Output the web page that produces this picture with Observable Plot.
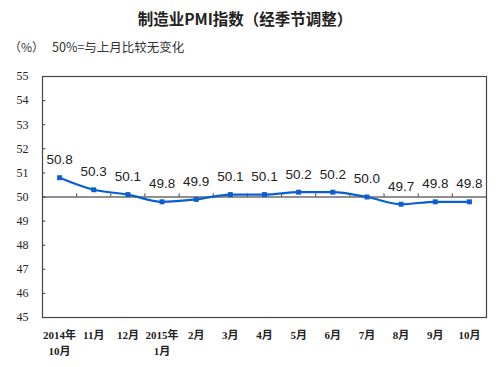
<!DOCTYPE html>
<html>
<head>
<meta charset="utf-8">
<script src="https://cdn.jsdelivr.net/npm/d3@7"></script>
<script src="https://cdn.jsdelivr.net/npm/@observablehq/plot@0.6"></script>
<style>
  html, body { margin: 0; padding: 0; background: #fff; }
  #wrap { width: 504px; height: 367px; position: relative; overflow: hidden; }
  #title { position: absolute; left: 0; width: 490px; top: 8px; text-align: center;
    font-family: "Noto Sans CJK SC", sans-serif; font-weight: bold; font-size: 15.5px; color: #222; line-height: 20px; }
  #unit { position: absolute; left: 9px; top: 39px; font-family: "Noto Sans CJK SC", sans-serif; font-size: 12px; color: #333; line-height: 16px; }
  #note { position: absolute; left: 52px; top: 39px; font-family: "Noto Sans CJK SC", sans-serif; font-size: 12.5px; color: #333; line-height: 16px; }
  #chart { position: absolute; left: 0; top: 60px; }
</style>
</head>
<body>
<div id="wrap">
  <div id="title">制造业PMI指数（经季节调整）</div>
  <div id="unit">（%）</div>
  <div id="note">50%=与上月比较无变化</div>
  <div id="chart"></div>
</div>
<script>
const months = ["2014年\n10月", "11月", "12月", "2015年\n1月", "2月", "3月", "4月", "5月", "6月", "7月", "8月", "9月", "10月"];
const pmi = [50.8, 50.3, 50.1, 49.8, 49.9, 50.1, 50.1, 50.2, 50.2, 50.0, 49.7, 49.8, 49.8];
const yTicks = [45, 46, 47, 48, 49, 50, 51, 52, 53, 54, 55];
const baseline = 50;

const data = pmi.map((v, i) => ({i, v, label: v.toFixed(1)}));
const idx = months.map((_, i) => i);
const boundaries = months.slice(1).map((_, i) => i + 0.5);

const blue = "#0a5fd0";
const chart = Plot.plot({
  width: 504,
  height: 307,
  marginLeft: 42,
  marginRight: 18,
  marginTop: 16,
  marginBottom: 50,
  x: {type: "linear", domain: [-0.5, months.length - 0.5], label: null},
  y: {domain: [45, 55], label: null},
  marks: [
    Plot.frame({stroke: "#444", strokeWidth: 1.2}),
    Plot.ruleY([baseline], {stroke: "#222", strokeWidth: 1.2}),
    Plot.ruleX(boundaries, {y1: baseline, y2: baseline + 0.13, stroke: "#444"}),
    Plot.ruleY(yTicks, {x1: -0.5, x2: -0.5 + 0.1, stroke: "#444"}),
    Plot.axisY({ticks: yTicks, tickSize: 0, tickPadding: 14, tickFormat: d => String(d), label: null,
      fontSize: 12, fontFamily: "Liberation Serif, serif", fill: "#222"}),
    Plot.axisX({ticks: idx, tickSize: 0, tickPadding: 10, tickFormat: i => months[i], label: null,
      fontSize: 11, fontWeight: "bold", fontFamily: "Liberation Serif, Noto Sans CJK SC, serif",
      lineHeight: 1.45, fill: "#222"}),
    Plot.line(data, {x: "i", y: "v", stroke: blue, strokeWidth: 2.2, curve: "monotone-x"}),
    Plot.dot(data, {x: "i", y: "v", symbol: "square", r: 2.8, fill: blue, stroke: null}),
    Plot.text(data, {x: "i", y: "v", text: "label", dy: -18, fontSize: 13.5,
      fontFamily: "Liberation Sans, Arial, sans-serif", fill: "#222"})
  ]
});
document.getElementById("chart").appendChild(chart);
</script>
</body>
</html>
